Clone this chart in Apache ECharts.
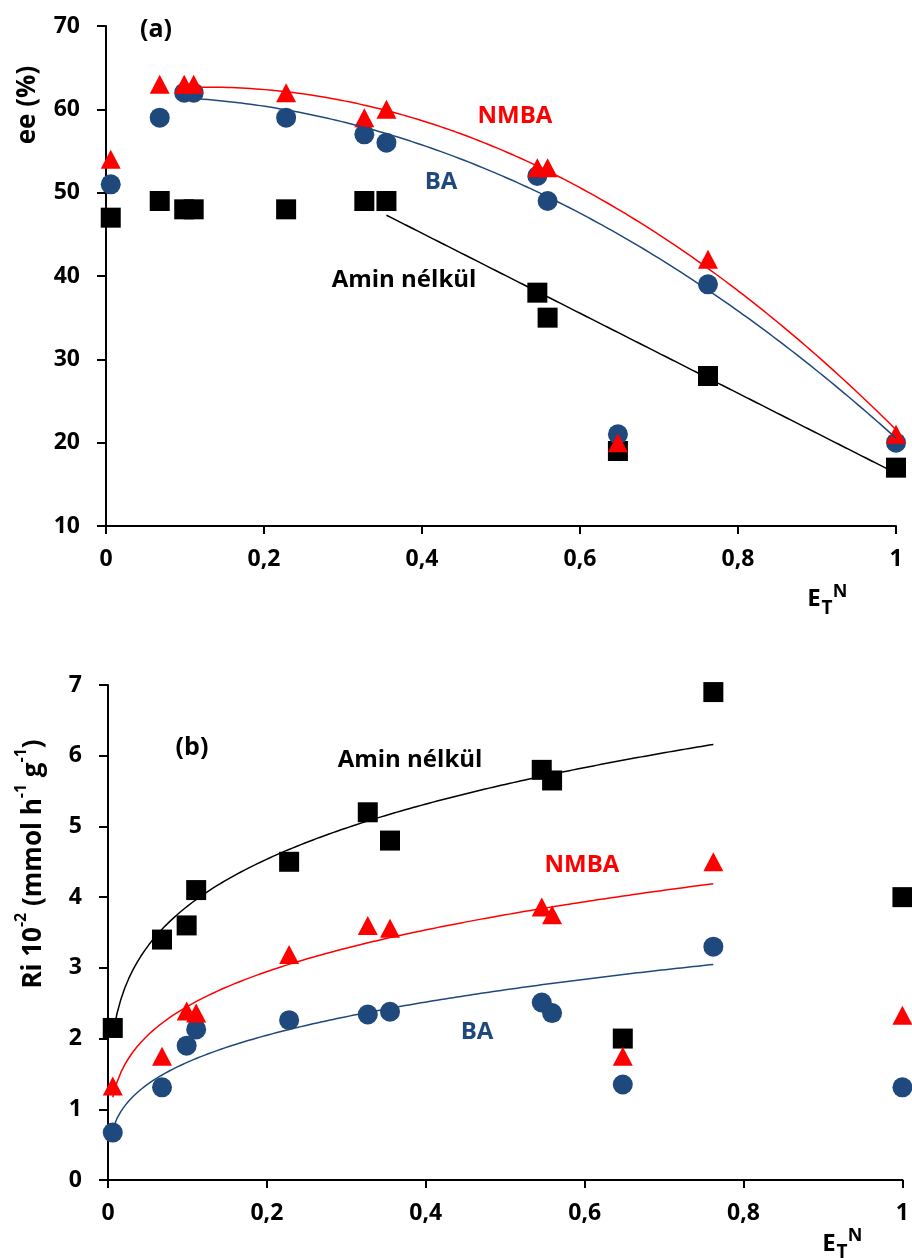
<!DOCTYPE html>
<html lang="hu">
<head>
    <meta charset="UTF-8">
    <title>ee és Ri – E_T^N</title>
    <script src="https://cdn.jsdelivr.net/npm/echarts@6/dist/echarts.min.js"></script>
</head>
<style>
    html, body {
        margin: 0;
        height: 100%;
        background: #fff;
    }
</style>
<body>
<div id="main" style="width: 912px;height:1258px"></div>
<script type="text/javascript">
    // oldószerek E_T^N értékei
    var xs = [0.006, 0.068, 0.099, 0.111, 0.228, 0.327, 0.355, 0.546, 0.559, 0.648, 0.762, 1.0];

    // (a) ee (%)
    var eeAmin = [47, 49, 48, 48, 48, 49, 49, 38, 35, 19, 28, 17];
    var eeBA = [51, 59, 62, 62, 59, 57, 56, 52, 49, 21, 39, 20];
    var eeNMBA = [54, 63, 63, 63, 62, 59, 60, 53, 53, 20, 42, 21];

    // (b) Ri 10^-2 (mmol h-1 g-1)
    var riAmin = [2.15, 3.4, 3.6, 4.1, 4.5, 5.2, 4.8, 5.8, 5.65, 2.0, 6.9, 4.0];
    var riNMBA = [1.33, 1.75, 2.39, 2.36, 3.19, 3.6, 3.56, 3.86, 3.75, 1.75, 4.5, 2.33];
    var riBA = [0.67, 1.31, 1.9, 2.13, 2.26, 2.34, 2.38, 2.51, 2.36, 1.35, 3.3, 1.31];

    // melyik pontokra illesztettek trendvonalat
    var eeCurveIdx = [2, 3, 4, 5, 6, 7, 8, 10, 11];
    var eeLineIdx = [6, 7, 8, 10, 11];
    var riIdx = [0, 1, 2, 3, 4, 5, 6, 7, 8, 10];

    var BLUE = '#1F497D';
    var RED = '#FF0000';
    var FONT = '"Open Sans", "Liberation Sans", sans-serif';

    // legkisebb négyzetek, kis normálegyenlet-rendszer
    function lsq(rows, ys) {
        var n = rows[0].length, A = [], i, j, k;
        for (i = 0; i < n; i++) {
            A.push([]);
            for (j = 0; j <= n; j++) A[i].push(0);
        }
        rows.forEach(function (r, m) {
            for (i = 0; i < n; i++) {
                for (j = 0; j < n; j++) A[i][j] += r[i] * r[j];
                A[i][n] += r[i] * ys[m];
            }
        });
        for (i = 0; i < n; i++) {
            for (k = i + 1; k < n; k++) {
                var f = A[k][i] / A[i][i];
                for (j = i; j <= n; j++) A[k][j] -= f * A[i][j];
            }
        }
        var c = new Array(n);
        for (i = n - 1; i >= 0; i--) {
            var s = A[i][n];
            for (j = i + 1; j < n; j++) s -= A[i][j] * c[j];
            c[i] = s / A[i][i];
        }
        return c;
    }

    function pick(arr, idx) {
        return idx.map(function (i) { return arr[i]; });
    }

    function sample(x0, x1, fn) {
        var out = [], steps = 150;
        for (var i = 0; i <= steps; i++) {
            var x = x0 + (x1 - x0) * i / steps;
            out.push([x, fn(x)]);
        }
        return out;
    }

    function polyTrend(ys, idx, deg) {
        var px = pick(xs, idx), py = pick(ys, idx);
        var c = lsq(px.map(function (x) {
            var r = [];
            for (var d = 0; d <= deg; d++) r.push(Math.pow(x, d));
            return r;
        }), py);
        return sample(Math.min.apply(null, px), Math.max.apply(null, px), function (x) {
            var s = 0;
            for (var d = 0; d <= deg; d++) s += c[d] * Math.pow(x, d);
            return s;
        });
    }

    function powerTrend(ys, idx) {
        var px = pick(xs, idx), py = pick(ys, idx);
        var c = lsq(px.map(function (x) { return [1, Math.log(x)]; }),
            py.map(function (y) { return Math.log(y); }));
        return sample(Math.min.apply(null, px), Math.max.apply(null, px), function (x) {
            return Math.exp(c[0]) * Math.pow(x, c[1]);
        });
    }

    function pts(ys) {
        return xs.map(function (x, i) { return [x, ys[i]]; });
    }

    var labelStyle = {
        color: '#000', fontFamily: FONT, fontWeight: 'bold', fontSize: 23
    };

    function xAxis(grid) {
        return {
            gridIndex: grid, type: 'value', min: 0, max: 1, interval: 0.2,
            axisLine: {onZero: false, lineStyle: {color: '#000', width: 2}},
            axisTick: {length: 8, lineStyle: {color: '#000', width: 2}},
            splitLine: {show: false},
            axisLabel: Object.assign({
                margin: 22,
                formatter: function (v) { return String(+v.toFixed(1)).replace('.', ','); }
            }, labelStyle)
        };
    }

    function yAxis(grid, min, max, interval) {
        return {
            gridIndex: grid, type: 'value', min: min, max: max, interval: interval,
            axisLine: {onZero: false, lineStyle: {color: '#000', width: 2}},
            axisTick: {length: 9, lineStyle: {color: '#000', width: 2}},
            splitLine: {show: false},
            axisLabel: Object.assign({margin: 26}, labelStyle)
        };
    }

    function scatter(grid, ys, symbol, size, color, z) {
        return {
            type: 'scatter', xAxisIndex: grid, yAxisIndex: grid, data: pts(ys),
            symbol: symbol, symbolSize: size, itemStyle: {color: color, opacity: 1}, z: z
        };
    }

    function trend(grid, data, color) {
        return {
            type: 'line', xAxisIndex: grid, yAxisIndex: grid, data: data,
            showSymbol: false, smooth: false, lineStyle: {color: color, width: 1.5}, z: 5
        };
    }

    function txt(x, y, text, size, color, rot) {
        return {
            type: 'text', x: x, y: y, rotation: rot || 0, z: 10,
            style: {
                text: text, fill: color || '#000', align: 'center', verticalAlign: 'middle',
                font: 'bold ' + size + 'px ' + FONT
            }
        };
    }

    var myChart = echarts.init(document.getElementById('main'));
    var option = {
        animation: false,
        grid: [
            {left: 106, top: 26, width: 790, height: 500},
            {left: 108, top: 685, width: 797, height: 495}
        ],
        xAxis: [xAxis(0), xAxis(1)],
        yAxis: [yAxis(0, 10, 70, 10), yAxis(1, 0, 7, 1)],
        series: [
            scatter(0, eeAmin, 'rect', 20, '#000', 2),
            scatter(0, eeBA, 'circle', 20, BLUE, 3),
            scatter(0, eeNMBA, 'triangle', [20, 19], RED, 4),
            trend(0, polyTrend(eeAmin, eeLineIdx, 1), '#000'),
            trend(0, polyTrend(eeBA, eeCurveIdx, 2), BLUE),
            trend(0, polyTrend(eeNMBA, eeCurveIdx, 2), RED),

            scatter(1, riAmin, 'rect', 20, '#000', 2),
            scatter(1, riBA, 'circle', 20, BLUE, 3),
            scatter(1, riNMBA, 'triangle', [20, 19], RED, 4),
            trend(1, powerTrend(riAmin, riIdx), '#000'),
            trend(1, powerTrend(riBA, riIdx), BLUE),
            trend(1, powerTrend(riNMBA, riIdx), RED)
        ],
        graphic: [
            txt(156, 30, '(a)', 25),
            txt(515, 116, 'NMBA', 24, RED),
            txt(441, 182, 'BA', 24, BLUE),
            txt(404, 280, 'Amin nélkül', 24),
            txt(28, 105, 'ee (%)', 26, '#000', Math.PI / 2),
            txt(814, 599, 'E', 24),
            txt(827, 609, 'T', 19),
            txt(840, 592, 'N', 18),

            txt(192, 748, '(b)', 25),
            txt(410, 760, 'Amin nélkül', 24),
            txt(582, 865, 'NMBA', 24, RED),
            txt(477, 1032, 'BA', 24, BLUE),
            txt(829, 1244, 'E', 24),
            txt(842, 1253, 'T', 19),
            txt(855, 1236, 'N', 18),
            {
                type: 'text', x: 30, y: 864, rotation: Math.PI / 2, z: 10,
                style: {
                    text: '{m|Ri 10}{s|-2}{m| (mmol h}{s|-1}{m| g}{s|-1}{m|)}',
                    align: 'center', verticalAlign: 'middle', fill: '#000',
                    font: 'bold 26px ' + FONT,
                    rich: {
                        m: {font: 'bold 26px ' + FONT, fill: '#000', verticalAlign: 'bottom', lineHeight: 34},
                        s: {font: 'bold 16px ' + FONT, fill: '#000', verticalAlign: 'top', lineHeight: 34}
                    }
                }
            }
        ]
    };
    myChart.setOption(option);
</script>
</body>
</html>
